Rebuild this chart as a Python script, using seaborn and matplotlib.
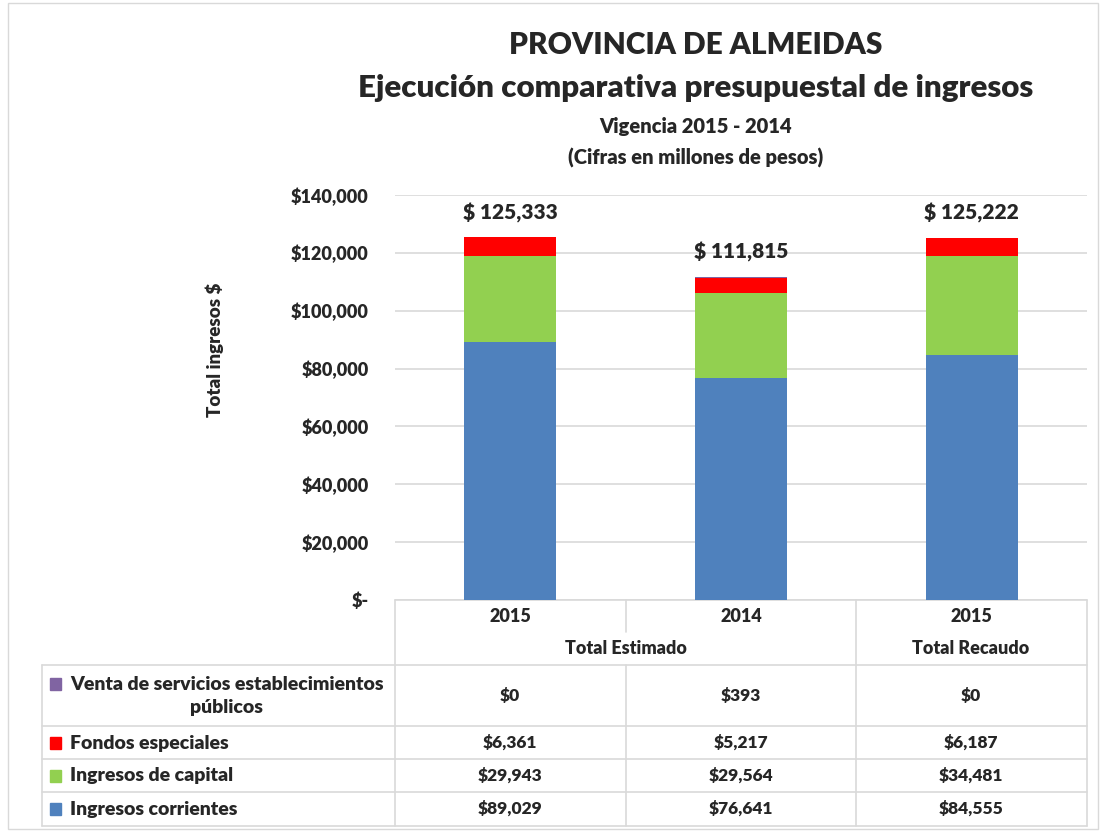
import numpy as np
import pandas as pd
import seaborn as sns
import matplotlib.pyplot as plt
from matplotlib.patches import Rectangle

years = ['2015', '2014', '2015']
groups = ['Total Estimado', 'Total Recaudo']
series = ['Venta de servicios establecimientos\npúblicos', 'Fondos especiales',
          'Ingresos de capital', 'Ingresos corrientes']
venta = [0, 393, 0]
fondos = [6361, 5217, 6187]
capital = [29943, 29564, 34481]
corrientes = [89029, 76641, 84555]
totals = [125333, 111815, 125222]
colors = ['#8064A2', '#FF0000', '#92D050', '#4F81BD']

W, H = 1103, 832
sns.set_theme(style='white')
plt.rcParams['font.family'] = ['Lato', 'DejaVu Sans']
FW = 'heavy'

fig = plt.figure(figsize=(W / 100, H / 100), dpi=100)

# overlay for text / table in pixel coords
ov = fig.add_axes([0, 0, 1, 1], zorder=0)
ov.set_xlim(0, W)
ov.set_ylim(H, 0)
ov.axis('off')

ax = fig.add_axes([395 / W, (H - 600) / H, (1087 - 395) / W, (600 - 195) / H], zorder=1)
ax.patch.set_alpha(0)

df = pd.DataFrame({'pos': [0, 1, 2], 'corrientes': corrientes, 'capital': capital,
                   'fondos': fondos, 'venta': venta})
df['c1'] = df.corrientes
df['c2'] = df.c1 + df.capital
df['c3'] = df.c2 + df.fondos
df['c4'] = df.c3 + df.venta

for col, color in zip(['c4', 'c3', 'c2', 'c1'], colors):
    sns.barplot(data=df, x='pos', y=col, color=color, width=0.4, saturation=1,
                order=[0, 1, 2], ax=ax, zorder=3, linewidth=0)

ax.set_ylim(0, 140000)
ax.set_xlim(-0.5, 2.5)
ax.set_yticks(np.arange(0, 140001, 20000))
ax.set_yticklabels(['$-'] + ['${:,}'.format(v) for v in range(20000, 140001, 20000)],
                   fontsize=13, fontweight=FW)
ax.tick_params(axis='y', length=0, pad=19)
ax.set_xticks([])
ax.set_xlabel('')
ax.set_ylabel('')
ax.grid(axis='y', color='#D9D9D9', linewidth=1.2)
for s in ax.spines.values():
    s.set_visible(False)

for i, t in enumerate(totals):
    ax.text(i, df.c4[i] + 5000, '$ {:,}'.format(t), ha='center', va='bottom',
            fontsize=15, fontweight=FW)

# titles
ov.text(696, 45, 'PROVINCIA DE ALMEIDAS', ha='center', va='center', fontsize=21.5, fontweight=FW)
ov.text(696, 88, 'Ejecución comparativa presupuestal de ingresos', ha='center', va='center',
        fontsize=22.5, fontweight=FW)
ov.text(696, 126, 'Vigencia 2015 - 2014', ha='center', va='center', fontsize=14.5, fontweight=FW)
ov.text(696, 158, '(Cifras en millones de pesos)', ha='center', va='center', fontsize=14.5,
        fontweight=FW)
ov.text(215, 350, 'Total ingresos $', ha='center', va='center', rotation=90, fontsize=13.5,
        fontweight=FW)

# data table
lc = '#D9D9D9'
lw = 1.2
cx = [510, 741, 971]
ov.plot([395, 1087], [600, 600], color=lc, lw=lw)
ov.plot([395, 395], [600, 826], color=lc, lw=lw)
ov.plot([626, 626], [600, 632], color=lc, lw=lw)
ov.plot([626, 626], [665, 826], color=lc, lw=lw)
ov.plot([856, 856], [600, 826], color=lc, lw=lw)
ov.plot([1087, 1087], [600, 826], color=lc, lw=lw)
ov.plot([42, 42], [665, 826], color=lc, lw=lw)
for y in [665, 726, 759, 792, 826]:
    ov.plot([42, 1087], [y, y], color=lc, lw=lw)

for x, yr in zip(cx, years):
    ov.text(x, 617, yr, ha='center', va='center', fontsize=13, fontweight=FW)
ov.text(626, 648, groups[0], ha='center', va='center', fontsize=13, fontweight=FW)
ov.text(971, 648, groups[1], ha='center', va='center', fontsize=13, fontweight=FW)

rows = [venta, fondos, capital, corrientes]
ycen = [696, 743, 776, 809]
for name, vals, color, y in zip(series, rows, colors, ycen):
    ty = 684 if '\n' in name else y
    ov.add_patch(Rectangle((50, ty - 6), 11, 12, color=color))
    ov.text(70, y, name, ha='left', va='center', multialignment='center', fontsize=14,
            fontweight=FW, linespacing=1.5)
    for x, v in zip(cx, vals):
        ov.text(x, y, '${:,}'.format(v), ha='center', va='center', fontsize=12.5, fontweight=FW)

# outer frame
ov.add_patch(Rectangle((8, 3), 1090, 826, fill=False, edgecolor=lc, lw=1))

fig.savefig('out.png', dpi=100)
